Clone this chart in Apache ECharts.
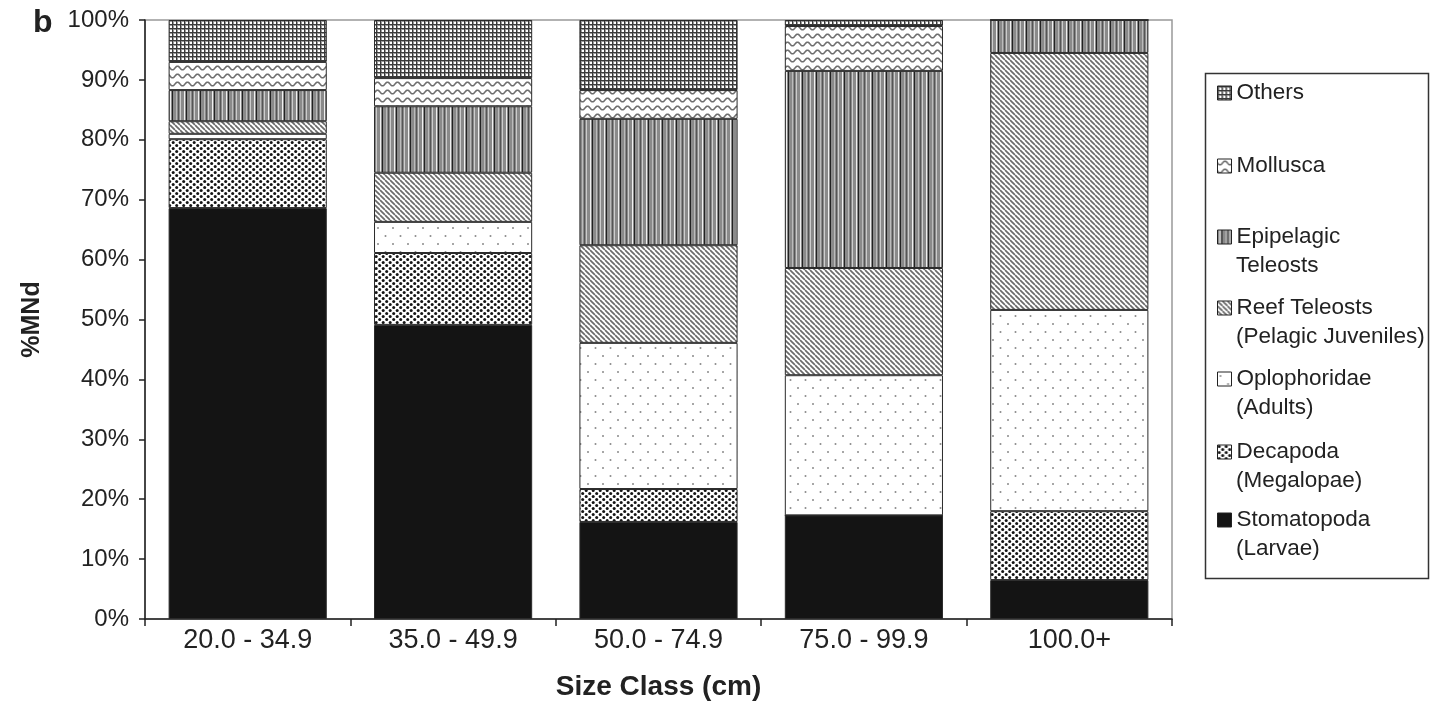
<!DOCTYPE html>
<html>
<head>
<meta charset="utf-8">
<script src="https://cdn.jsdelivr.net/npm/echarts@6/dist/echarts.min.js"></script>
<style>
html,body{margin:0;padding:0;background:#fff;}
#chart{width:1443px;height:703px;}
</style>
</head>
<body>
<div id="chart"></div>
<script>
// ---- data ----
const categories = ['20.0 - 34.9', '35.0 - 49.9', '50.0 - 74.9', '75.0 - 99.9', '100.0+'];
const stomatopoda = [68.6, 49.1, 16.2, 17.3, 6.5];
const decapoda    = [11.5, 12.0, 5.5, 0, 11.5];
const oplophoridae= [0.9, 5.2, 24.4, 23.4, 33.6];
const reefTeleosts= [2.1, 8.2, 16.3, 17.9, 42.9];
const epipelagic  = [5.2, 11.1, 21.1, 32.9, 5.5];
const mollusca    = [4.7, 4.7, 4.8, 7.5, 0];
const others      = [7.0, 9.7, 11.7, 1.0, 0];
const yTicks = [0, 10, 20, 30, 40, 50, 60, 70, 80, 90, 100];

// legend names (first line, second line)
const legendLines = {
  'Others': ['Others', ''],
  'Mollusca': ['Mollusca', ''],
  'Epipelagic Teleosts': ['Epipelagic', 'Teleosts'],
  'Reef Teleosts (Pelagic Juveniles)': ['Reef Teleosts', '(Pelagic Juveniles)'],
  'Oplophoridae (Adults)': ['Oplophoridae', '(Adults)'],
  'Decapoda (Megalopae)': ['Decapoda', '(Megalopae)'],
  'Stomatopoda (Larvae)': ['Stomatopoda', '(Larvae)']
};

// ---- patterns ----
function mk(w, h, draw) {
  const c = document.createElement('canvas');
  c.width = w; c.height = h;
  const g = c.getContext('2d');
  draw(g, w, h);
  return { image: c, repeat: 'repeat' };
}
const patOthers = mk(4, 4, (g, w, h) => {
  g.fillStyle = '#fff'; g.fillRect(0, 0, w, h);
  g.fillStyle = '#9a9a9a'; g.fillRect(0, 1, w, 1); g.fillRect(1, 0, 1, h);
  g.fillStyle = '#3a3a3a'; g.fillRect(0, 0, w, 1); g.fillRect(0, 0, 1, h);
});
const patMollusca = mk(10, 8, (g, w, h) => {
  g.fillStyle = '#fff'; g.fillRect(0, 0, w, h);
  g.strokeStyle = '#6e6e6e'; g.lineWidth = 1.6;
  g.beginPath();
  for (let x = -1; x <= w + 1; x += 0.5) {
    const y = 4 + 1.8 * Math.sin(2 * Math.PI * x / w);
    if (x === -1) g.moveTo(x, y); else g.lineTo(x, y);
  }
  g.stroke();
});
const patEpi = mk(14, 2, (g, w, h) => {
  g.fillStyle = '#8a8a8a'; g.fillRect(0, 0, w, h);
  g.fillStyle = '#f0f0f0'; g.fillRect(2, 0, 1, h);
  g.fillStyle = '#222'; g.fillRect(4, 0, 1, h);
  g.fillStyle = '#bbb'; g.fillRect(8, 0, 1, h);
  g.fillStyle = '#555'; g.fillRect(10, 0, 1, h);
  g.fillStyle = '#ccc'; g.fillRect(12, 0, 1, h);
});
const patReef = mk(5, 5, (g, w, h) => {
  g.fillStyle = '#fff'; g.fillRect(0, 0, w, h);
  g.strokeStyle = '#6a6a6a'; g.lineWidth = 1.7;
  for (let k = -1; k <= 1; k++) {
    g.beginPath(); g.moveTo(k * w, 0); g.lineTo(k * w + w, h); g.stroke();
  }
});
const patOplo = mk(15, 16, (g, w, h) => {
  g.fillStyle = '#fff'; g.fillRect(0, 0, w, h);
  g.fillStyle = '#8a8a8a';
  g.beginPath(); g.arc(3, 4, 1, 0, Math.PI * 2); g.fill();
  g.beginPath(); g.arc(10.5, 12, 1, 0, Math.PI * 2); g.fill();
});
const patDeca = mk(7, 6, (g, w, h) => {
  g.fillStyle = '#fff'; g.fillRect(0, 0, w, h);
  g.fillStyle = '#151515';
  g.beginPath(); g.arc(1.7, 1.5, 1.5, 0, Math.PI * 2); g.fill();
  g.beginPath(); g.arc(5.2, 4.5, 1.5, 0, Math.PI * 2); g.fill();
});
const colStom = '#141414';

const seriesDefs = [
  ['Stomatopoda (Larvae)', stomatopoda, colStom],
  ['Decapoda (Megalopae)', decapoda, patDeca],
  ['Oplophoridae (Adults)', oplophoridae, patOplo],
  ['Reef Teleosts (Pelagic Juveniles)', reefTeleosts, patReef],
  ['Epipelagic Teleosts', epipelagic, patEpi],
  ['Mollusca', mollusca, patMollusca],
  ['Others', others, patOthers]
];

const FONT = 'Liberation Sans, Arial, sans-serif';

const series = seriesDefs.map(([name, data, color]) => ({
  name: name,
  type: 'bar',
  stack: 'total',
  barCategoryGap: '23%',
  data: data,
  itemStyle: { color: color, borderColor: '#2a2a2a', borderWidth: 1 },
  emphasis: { disabled: true },
  animation: false
}));

// legend layout (top->bottom order)
const legendOrder = ['Others', 'Mollusca', 'Epipelagic Teleosts', 'Reef Teleosts (Pelagic Juveniles)',
  'Oplophoridae (Adults)', 'Decapoda (Megalopae)', 'Stomatopoda (Larvae)'];
const legendY = [93, 166, 237, 308, 379, 452, 520];
const LH = 26;
const LFS = 22.5;
const legends = legendOrder.map((n, i) => ({
  data: [n],
  orient: 'vertical',
  left: 1217,
  top: legendY[i] - LH / 2,
  padding: 0,
  icon: 'rect',
  itemWidth: 14,
  itemHeight: 14,
  selectedMode: false,
  itemStyle: { borderColor: '#222', borderWidth: 1 },
  textStyle: { fontFamily: FONT, fontSize: LFS, color: '#222', lineHeight: LH },
  formatter: (name) => legendLines[name][0]
}));

const graphics = [
  { type: 'rect', shape: { x: 1205.5, y: 73.5, width: 223, height: 505 },
    style: { fill: null, stroke: '#333', lineWidth: 1.5 }, silent: true }
];
legendOrder.forEach((n, i) => {
  const second = legendLines[n][1];
  if (second) {
    graphics.push({
      type: 'text', left: 1236, top: legendY[i] + 29 - LH / 2,
      style: { text: second, font: LFS + 'px ' + FONT, fill: '#222', lineHeight: LH }
    });
  }
});

const chart = echarts.init(document.getElementById('chart'), null, { renderer: 'canvas' });
chart.setOption({
  animation: false,
  backgroundColor: '#fff',
  title: {
    text: 'b', left: 28, top: 2,
    textStyle: { fontFamily: FONT, fontSize: 32, fontWeight: 'bold', color: '#222' }
  },
  grid: {
    left: 145, top: 20, right: 271, bottom: 84,
    outerBoundsMode: 'none',
    containLabel: false,
    show: true, borderColor: '#999', borderWidth: 1.5, backgroundColor: 'transparent'
  },
  legend: legends,
  graphic: graphics,
  xAxis: {
    type: 'category',
    data: categories,
    name: 'Size Class (cm)',
    nameLocation: 'middle',
    nameGap: 54,
    nameTextStyle: { fontFamily: FONT, fontSize: 28, fontWeight: 'bold', color: '#222' },
    axisLine: { lineStyle: { color: '#222', width: 1.5 } },
    axisTick: { show: true, length: 7, lineStyle: { color: '#222', width: 1.5 } },
    axisLabel: { fontFamily: FONT, fontSize: 27, color: '#222', margin: 8 }
  },
  yAxis: {
    type: 'value',
    min: yTicks[0],
    max: yTicks[yTicks.length - 1],
    interval: yTicks[1] - yTicks[0],
    name: '%MNd',
    nameLocation: 'middle',
    nameRotate: 90,
    nameGap: 100,
    nameTextStyle: { fontFamily: FONT, fontSize: 25, fontWeight: 'bold', color: '#222' },
    axisLine: { show: true, lineStyle: { color: '#222', width: 1.5 } },
    axisTick: { show: true, length: 6, lineStyle: { color: '#222', width: 1.5 } },
    splitLine: { show: false },
    axisLabel: { fontFamily: FONT, fontSize: 24, color: '#222', margin: 16, formatter: '{value}%' }
  },
  series: series
});
</script>
</body>
</html>
